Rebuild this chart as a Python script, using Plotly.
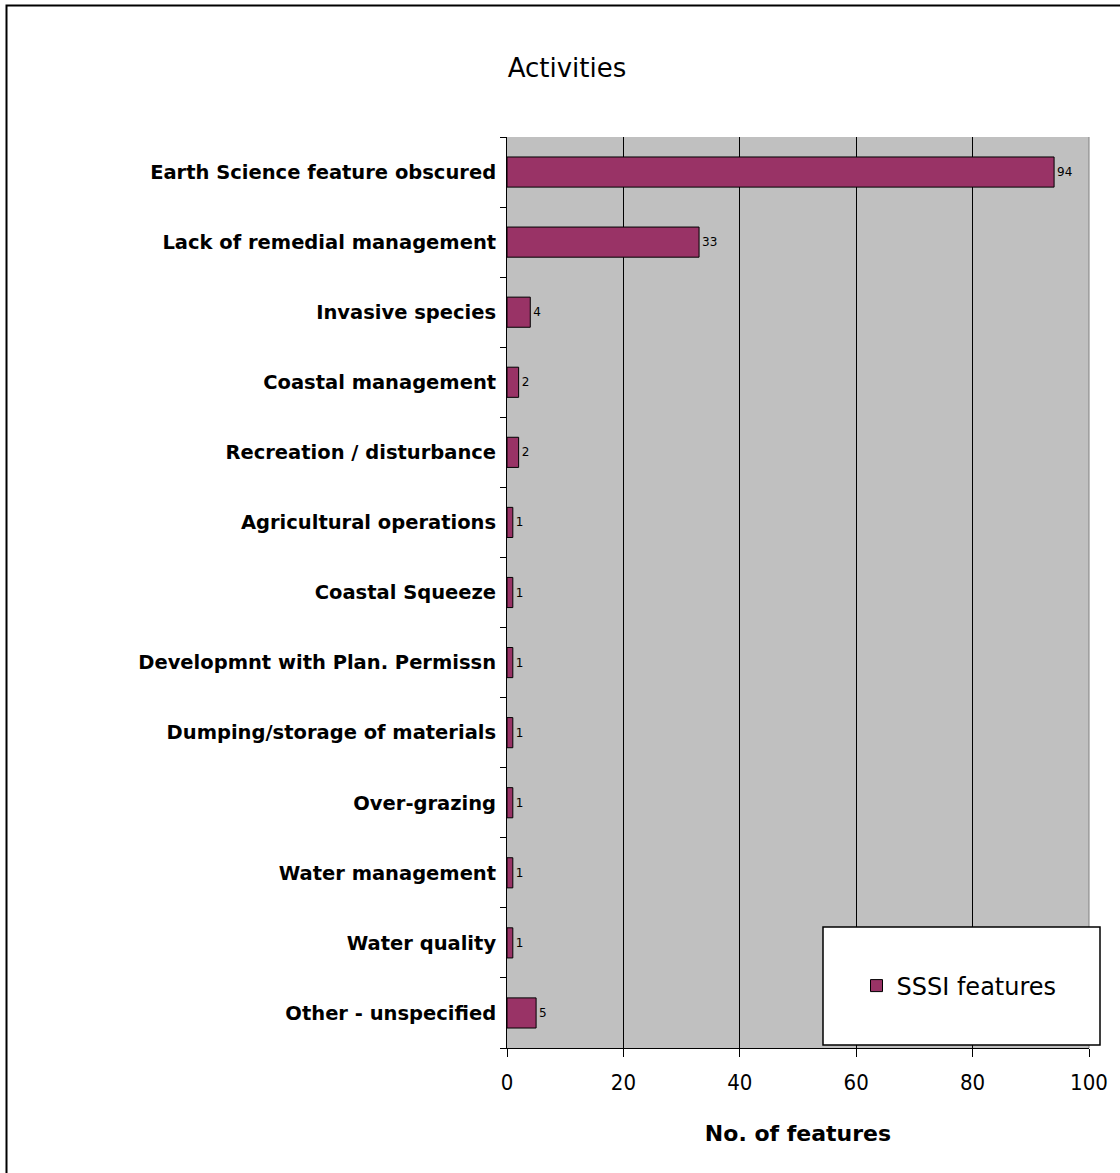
import plotly.graph_objects as go

categories = [
    "Earth Science feature obscured",
    "Lack of remedial management",
    "Invasive species",
    "Coastal management",
    "Recreation / disturbance",
    "Agricultural operations",
    "Coastal Squeeze",
    "Developmnt with Plan. Permissn",
    "Dumping/storage of materials",
    "Over-grazing",
    "Water management",
    "Water quality",
    "Other - unspecified",
]
values = [94, 33, 4, 2, 2, 1, 1, 1, 1, 1, 1, 1, 5]
x_ticks = [0, 20, 40, 60, 80, 100]

W, H = 1120, 1173
L, R, T, B = 507, 1089, 137, 1048  # plot area in px

def px_x(p):
    return (p - L) / (R - L)

def px_y(p):
    return (B - p) / (B - T)

fig = go.Figure()
fig.add_trace(go.Bar(
    y=categories,
    x=values,
    orientation="h",
    name="SSSI features",
    marker=dict(color="#993366", line=dict(color="black", width=1)),
    text=[str(v) for v in values],
    textposition="outside",
    textfont=dict(family="DejaVu Sans", size=12, color="black"),
    cliponaxis=False,
))

fig.update_layout(
    width=W, height=H,
    margin=dict(l=L, r=W - R, t=T, b=H - B, pad=0),
    paper_bgcolor="white",
    plot_bgcolor="#C0C0C0",
    bargap=0.57,
    font=dict(family="DejaVu Sans", color="black"),
    title=dict(text="Activities", x=px_x(567), xref="paper", xanchor="center",
               y=1 - 68 / H, yanchor="middle", yref="container",
               font=dict(family="DejaVu Sans", size=26, color="black")),
    showlegend=True,
    legend=dict(x=px_x(959), y=px_y(986), xanchor="center", yanchor="middle",
                bgcolor="rgba(0,0,0,0)", borderwidth=0,
                font=dict(family="DejaVu Sans", size=24, color="black"),
                itemwidth=30),
    xaxis=dict(
        range=[0, 100],
        tickvals=x_ticks,
        ticktext=[str(t) for t in x_ticks],
        showgrid=True, gridcolor="black", gridwidth=1,
        zeroline=False,
        showline=True, linecolor="black", linewidth=1,
        ticks="outside", ticklen=8, tickcolor="black",
        tickfont=dict(family="DejaVu Sans Condensed, DejaVu Sans", size=22, color="black"),
        ticklabelstandoff=7,
        title=dict(text="<b>No. of features</b>", standoff=31,
                   font=dict(family="DejaVu Sans", size=22, color="black")),
        mirror=False,
    ),
    yaxis=dict(
        autorange="reversed",
        type="category",
        showgrid=False,
        showline=True, linecolor="black", linewidth=1,
        ticks="outside", ticklen=6, tickcolor="black",
        tickson="boundaries",
        tickfont=dict(family="DejaVu Sans", size=19.5, color="black"),
        ticklabelstandoff=6,
    ),
)

# bold category labels
fig.update_yaxes(tickvals=categories, ticktext=[f"<b>{c}</b>" for c in categories])

shapes = [
    # right plot border (grey)
    dict(type="line", xref="paper", yref="paper", x0=1, x1=1, y0=0, y1=1,
         line=dict(color="#808080", width=1)),
    # legend box
    dict(type="rect", xref="paper", yref="paper",
         x0=px_x(823), x1=px_x(1100), y0=px_y(1045), y1=px_y(927),
         fillcolor="white", line=dict(color="black", width=1.5), layer="above"),
    # outer chart border
    dict(type="rect", xref="paper", yref="paper",
         x0=px_x(6.5), x1=px_x(1125), y0=px_y(1180), y1=px_y(5.5),
         fillcolor="rgba(0,0,0,0)", line=dict(color="black", width=2)),
]
fig.update_layout(shapes=shapes)

fig.write_html("out.html")
